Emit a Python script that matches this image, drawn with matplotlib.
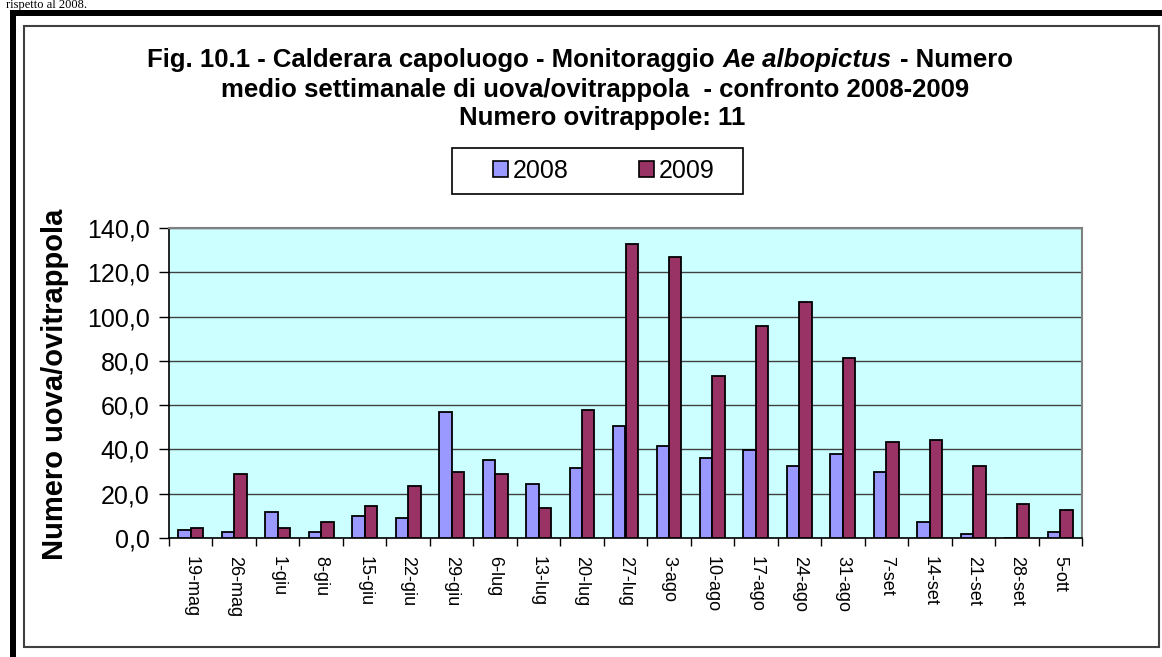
import matplotlib
matplotlib.use("Agg")
import matplotlib.pyplot as plt
import numpy as np
from matplotlib.patches import Patch, Rectangle
from matplotlib.ticker import FuncFormatter, FixedLocator

plt.rcParams['font.family'] = ['Liberation Sans', 'DejaVu Sans']

weeks = ["19-mag", "26-mag", "1-giu", "8-giu", "15-giu", "22-giu", "29-giu",
         "6-lug", "13-lug", "20-lug", "27-lug", "3-ago", "10-ago", "17-ago",
         "24-ago", "31-ago", "7-set", "14-set", "21-set", "28-set", "5-ott"]
y2008 = [3.6, 2.6, 11.7, 2.6, 9.8, 8.9, 56.9, 35.1, 24.3, 31.5, 50.7,
         41.5, 36.1, 39.7, 32.4, 37.9, 29.7, 7.1, 1.6, 0.0, 2.5]
y2009 = [4.4, 28.9, 4.4, 7.2, 14.5, 23.5, 29.8, 28.9, 13.4, 57.8, 132.9,
         126.7, 73.2, 95.9, 106.8, 81.4, 43.3, 44.2, 32.4, 15.2, 12.5]

W, H = 1162, 657
fig = plt.figure(figsize=(W / 100, H / 100), dpi=100)
fig.patch.set_facecolor("white")

def fx(px):
    return px / W

def fy(py):
    return 1 - py / H

# page text above the chart and the document frame
fig.text(fx(6), fy(8), "rispetto al 2008.", family="Liberation Serif",
         fontsize=9, va="baseline", ha="left")
fig.patches.append(Rectangle((fx(10), 0), fx(6), fy(10),
                             transform=fig.transFigure, facecolor="black",
                             edgecolor="none", zorder=0))
fig.patches.append(Rectangle((fx(10), fy(16)), 1, 6 / H,
                             transform=fig.transFigure, facecolor="black",
                             edgecolor="none", zorder=0))
# chart area frame
fig.patches.append(Rectangle((fx(24), fy(647)), fx(1159 - 24), fy(26) - fy(647),
                             transform=fig.transFigure, facecolor="none",
                             edgecolor="#404040", lw=1.5, zorder=1))

ax = fig.add_axes([fx(169), fy(538), fx(1082 - 169), fy(228) - fy(538)])
ax.set_facecolor("#CCFFFF")

x = np.arange(len(weeks))
bw = 0.286
ax.bar(x - bw / 2, y2008, bw, color="#9999FF", edgecolor="black", lw=1.3, zorder=3)
ax.bar(x + bw / 2, y2009, bw, color="#993366", edgecolor="black", lw=1.3, zorder=3)

ax.set_xlim(-0.5, len(weeks) - 0.5)
ax.set_ylim(0, 140)
ax.set_yticks(np.arange(0, 141, 20))
ax.yaxis.set_major_formatter(FuncFormatter(lambda v, p: f"{v:.1f}".replace(".", ",")))
ax.tick_params(axis="y", labelsize=18, length=7, width=1, pad=7)
ax.grid(axis="y", color="#404040", lw=1, zorder=1)

ax.xaxis.set_major_locator(FixedLocator(np.arange(-0.5, len(weeks), 1.0)))
ax.xaxis.set_major_formatter(FuncFormatter(lambda v, p: ""))
ax.xaxis.set_minor_locator(FixedLocator(x))
ax.set_xticklabels(weeks, minor=True, rotation=-90, fontsize=13)
ax.tick_params(axis="x", which="major", length=6, width=1)
ax.tick_params(axis="x", which="minor", length=0, pad=13)
for lbl in ax.get_xticklabels(minor=True):
    lbl.set_verticalalignment("top")
    lbl.set_horizontalalignment("center")

for s in ["left", "bottom"]:
    ax.spines[s].set_color("black")
    ax.spines[s].set_linewidth(1.2)
for s in ["top", "right"]:
    ax.spines[s].set_color("#808080")
    ax.spines[s].set_linewidth(1.5)

fig.text(fx(55), fy(384), "Numero uova/ovitrappola", rotation=90, fontsize=21,
         fontweight="bold", ha="center", va="center")

# title, first line has the species name in italics
tsize = 18.5
parts = [("Fig. 10.1 - Calderara capoluogo - Monitoraggio", "normal"),
         ("Ae albopictus", "italic"),
         ("- Numero", "normal")]
texts = [fig.text(0, fy(67), s, fontsize=tsize, fontweight="bold", fontstyle=st,
                  va="baseline", ha="left") for s, st in parts]
fig.canvas.draw()
r = fig.canvas.get_renderer()
widths = [t.get_window_extent(r).width for t in texts]
gap = 8
total = sum(widths) + gap * (len(widths) - 1)
left = 580 - total / 2
for t, w in zip(texts, widths):
    t.set_x(fx(left))
    left += w + gap
fig.text(fx(595), fy(97), "medio settimanale di uova/ovitrappola  - confronto 2008-2009",
         fontsize=tsize, fontweight="bold", ha="center", va="baseline")
fig.text(fx(602), fy(125), "Numero ovitrappole: 11",
         fontsize=tsize, fontweight="bold", ha="center", va="baseline")

# legend
fig.patches.append(Rectangle((fx(452), fy(194)), fx(743 - 452), fy(148) - fy(194),
                             transform=fig.transFigure, facecolor="white",
                             edgecolor="black", lw=1.2, zorder=1))
handles = [Patch(facecolor="#9999FF", edgecolor="black", lw=1.2, label="2008"),
           Patch(facecolor="#993366", edgecolor="black", lw=1.2, label="2009")]
fig.legend(handles=handles, loc="center", bbox_to_anchor=(fx(604), fy(171)),
           ncol=2, frameon=False, fontsize=18, handlelength=0.6, handleheight=0.6,
           handletextpad=0.2, columnspacing=2.8, borderpad=0, borderaxespad=0)

fig.savefig("out.png", dpi=100)
